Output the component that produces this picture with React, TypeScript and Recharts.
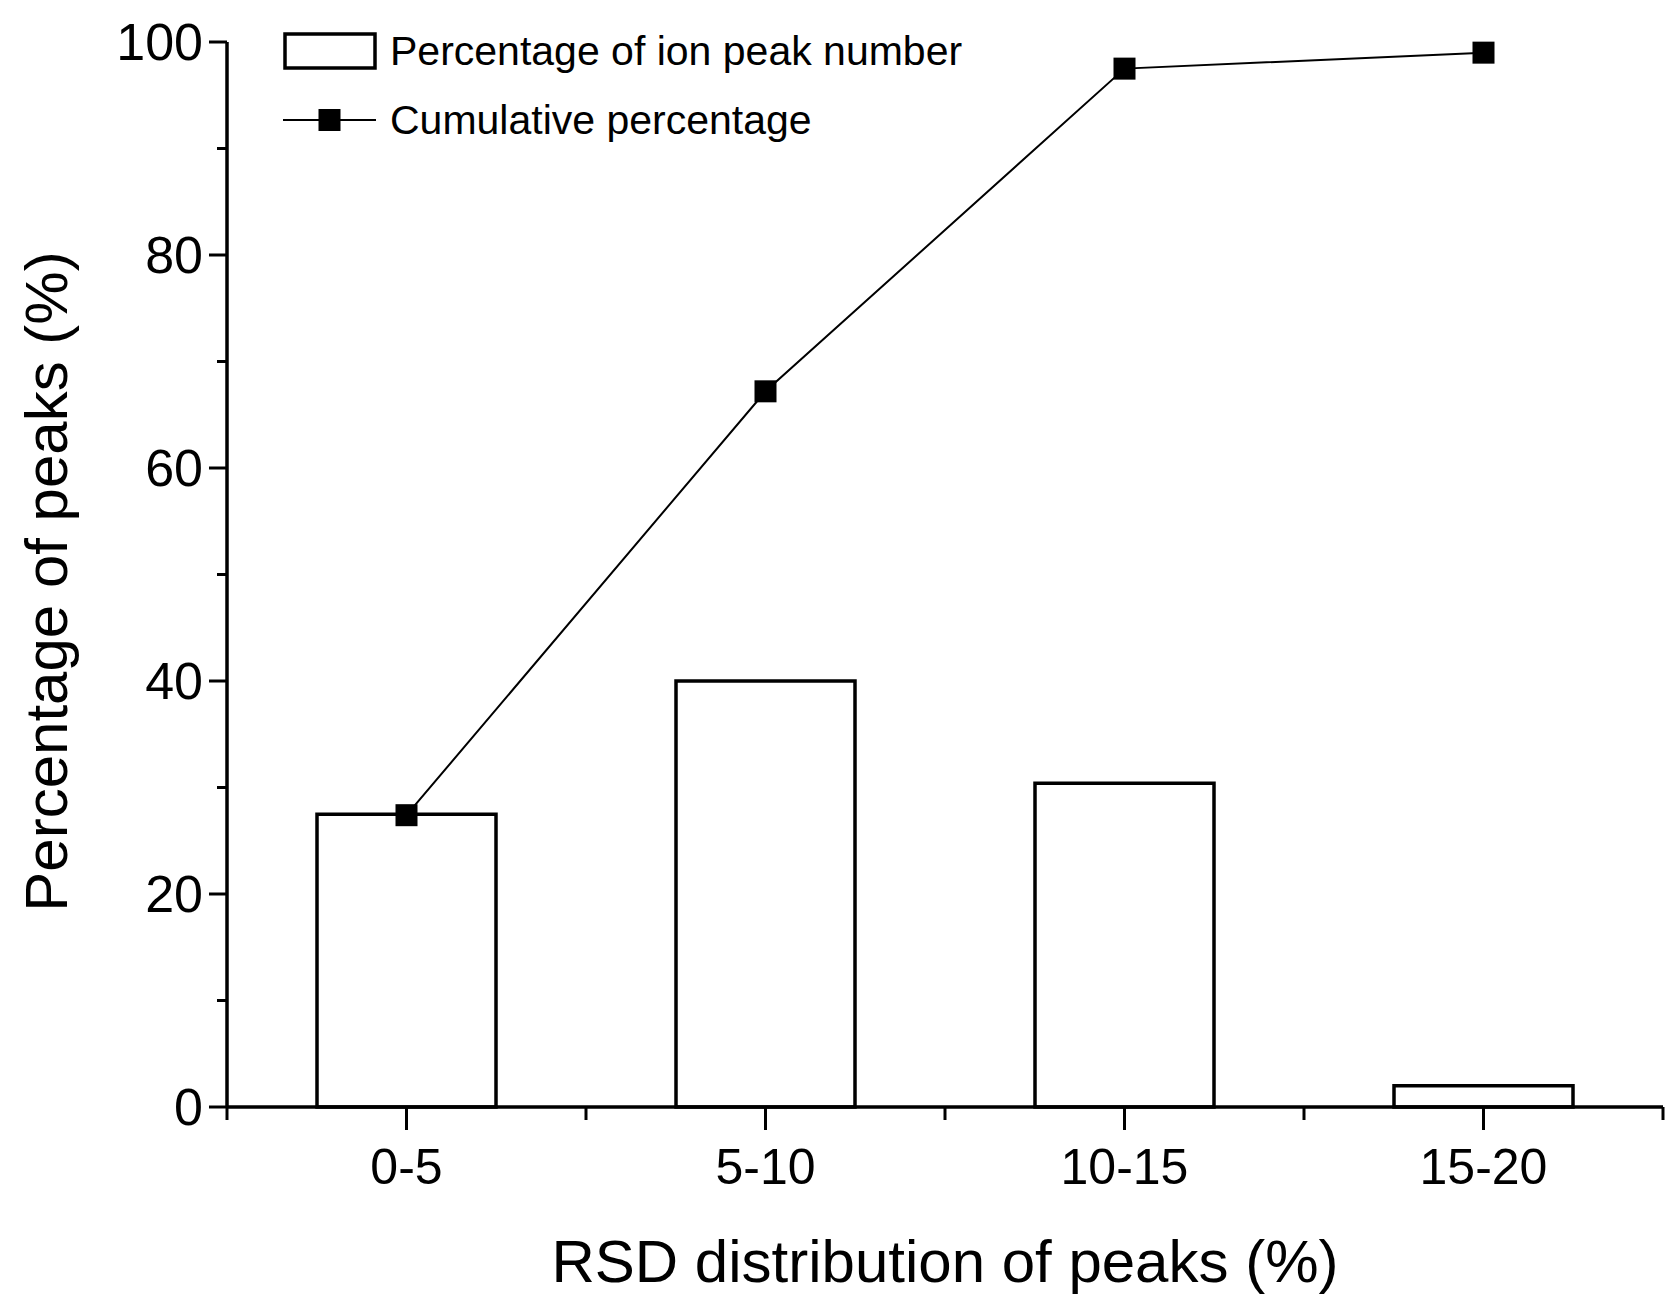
import React from 'react';
import {
  ComposedChart,
  Bar,
  Line,
  XAxis,
  YAxis,
  Legend,
  Label,
} from 'recharts';

const categories = ['0-5', '5-10', '10-15', '15-20'];
const peakPercent = [27.5, 40.0, 30.4, 2.0];
const cumulativePercent = [27.4, 67.2, 97.5, 99.0];
const yTicks = [0, 10, 20, 30, 40, 50, 60, 70, 80, 90, 100];
const yLabelledTicks = [0, 20, 40, 60, 80, 100];

const data = categories.map((cat, i) => ({
  cat,
  peaks: peakPercent[i],
  cumulative: cumulativePercent[i],
}));

const FONT = '"Liberation Sans", Arial, sans-serif';
const INK = '#000';

const Y_TICK = 18;
const Y_TICK_MINOR = 10;
const Y_MARGIN = 6;
const X_TICK = 23;
const X_TICK_MINOR = 13;
const X_MARGIN = 18;

// y ticks every 10, labels only on every other one
const YTick = (props: any) => {
  const { x, y, payload } = props;
  const axisX = x + Y_TICK + Y_MARGIN;
  const major = yLabelledTicks.includes(payload.value);
  return (
    <g>
      <line
        x1={axisX - (major ? Y_TICK : Y_TICK_MINOR)}
        x2={axisX}
        y1={y}
        y2={y}
        stroke={INK}
        strokeWidth={3}
      />
      {major && (
        <text x={x} y={y} dy="0.355em" textAnchor="end" fontSize={52} fontFamily={FONT} fill={INK}>
          {payload.value}
        </text>
      )}
    </g>
  );
};

// category ticks at centres, short ticks on the band edges
const XTick = (props: any) => {
  const { x, y, payload, index, visibleTicksCount, width } = props;
  const axisY = y - X_TICK - X_MARGIN;
  const half = payload.offset || width / visibleTicksCount / 2;
  const last = index === visibleTicksCount - 1;
  return (
    <g>
      <line x1={x} x2={x} y1={axisY} y2={axisY + X_TICK} stroke={INK} strokeWidth={3} />
      <line x1={x - half} x2={x - half} y1={axisY} y2={axisY + X_TICK_MINOR} stroke={INK} strokeWidth={3} />
      {last && (
        <line x1={x + half} x2={x + half} y1={axisY} y2={axisY + X_TICK_MINOR} stroke={INK} strokeWidth={3} />
      )}
      <text x={x} y={y} dy="0.71em" textAnchor="middle" fontSize={50} fontFamily={FONT} fill={INK}>
        {payload.value}
      </text>
    </g>
  );
};

const SquareDot = (props: any) => {
  const { cx, cy, index } = props;
  if (cx == null || cy == null) return null;
  return <rect key={`dot-${index}`} x={cx - 11} y={cy - 11} width={22} height={22} fill={INK} />;
};

const LegendContent = (props: any) => {
  const items = [...(props.payload || [])].sort((a: any, b: any) =>
    a.type === 'rect' ? -1 : b.type === 'rect' ? 1 : 0
  );
  return (
    <svg width={720} height={110} style={{ display: 'block', overflow: 'visible' }}>
      {items.map((item: any, i: number) => {
        const cy = 19 + i * 69;
        return (
          <g key={item.value}>
            {item.type === 'rect' ? (
              <rect x={2} y={cy - 17} width={90} height={34} fill="#fff" stroke={INK} strokeWidth={3.5} />
            ) : (
              <>
                <line x1={0} x2={93} y1={cy} y2={cy} stroke={INK} strokeWidth={2} />
                <rect x={35.5} y={cy - 11} width={22} height={22} fill={INK} />
              </>
            )}
            <text x={107} y={cy + 14} fontSize={41} fontFamily={FONT} fill={INK}>
              {item.value}
            </text>
          </g>
        );
      })}
    </svg>
  );
};

const YTitle = (props: any) => {
  const { viewBox } = props;
  const x = viewBox.x + viewBox.width - 160;
  const y = viewBox.y + viewBox.height / 2 + 7;
  return (
    <text
      x={x}
      y={y}
      transform={`rotate(-90, ${x}, ${y})`}
      textAnchor="middle"
      fontSize={60}
      fontFamily={FONT}
      fill={INK}
    >
      Percentage of peaks (%)
    </text>
  );
};

const XTitle = (props: any) => {
  const { viewBox } = props;
  return (
    <text
      x={viewBox.x + viewBox.width / 2}
      y={viewBox.y + 175}
      textAnchor="middle"
      fontSize={60}
      fontFamily={FONT}
      fill={INK}
    >
      RSD distribution of peaks (%)
    </text>
  );
};

export default function App() {
  return (
    <div style={{ width: 1671, height: 1290, background: '#fff' }}>
      <ComposedChart
        width={1671}
        height={1290}
        data={data}
        margin={{ top: 34, right: 16, bottom: 190, left: 218 }}
      >
        <XAxis
          dataKey="cat"
          height={1}
          interval={0}
          tickSize={X_TICK}
          tickMargin={X_MARGIN}
          tick={<XTick />}
          tickLine={false}
          stroke={INK}
          strokeWidth={3.5}
        >
          <Label content={<XTitle />} />
        </XAxis>
        <YAxis
          domain={[0, 100]}
          ticks={yTicks}
          width={1}
          interval={0}
          tickSize={Y_TICK}
          tickMargin={Y_MARGIN}
          tick={<YTick />}
          tickLine={false}
          stroke={INK}
          strokeWidth={3.5}
        >
          <Label content={<YTitle />} />
        </YAxis>
        <Legend
          layout="vertical"
          align="center"
          verticalAlign="middle"
          content={<LegendContent />}
          wrapperStyle={{ left: 275, top: 24, width: 720, height: 110 }}
        />
        <Bar
          dataKey="peaks"
          name="Percentage of ion peak number"
          barSize={179}
          fill="#fff"
          stroke={INK}
          strokeWidth={3.5}
          legendType="rect"
          isAnimationActive={false}
        />
        <Line
          dataKey="cumulative"
          name="Cumulative percentage"
          type="linear"
          stroke={INK}
          strokeWidth={2}
          dot={<SquareDot />}
          activeDot={false}
          legendType="line"
          isAnimationActive={false}
        />
      </ComposedChart>
    </div>
  );
}
